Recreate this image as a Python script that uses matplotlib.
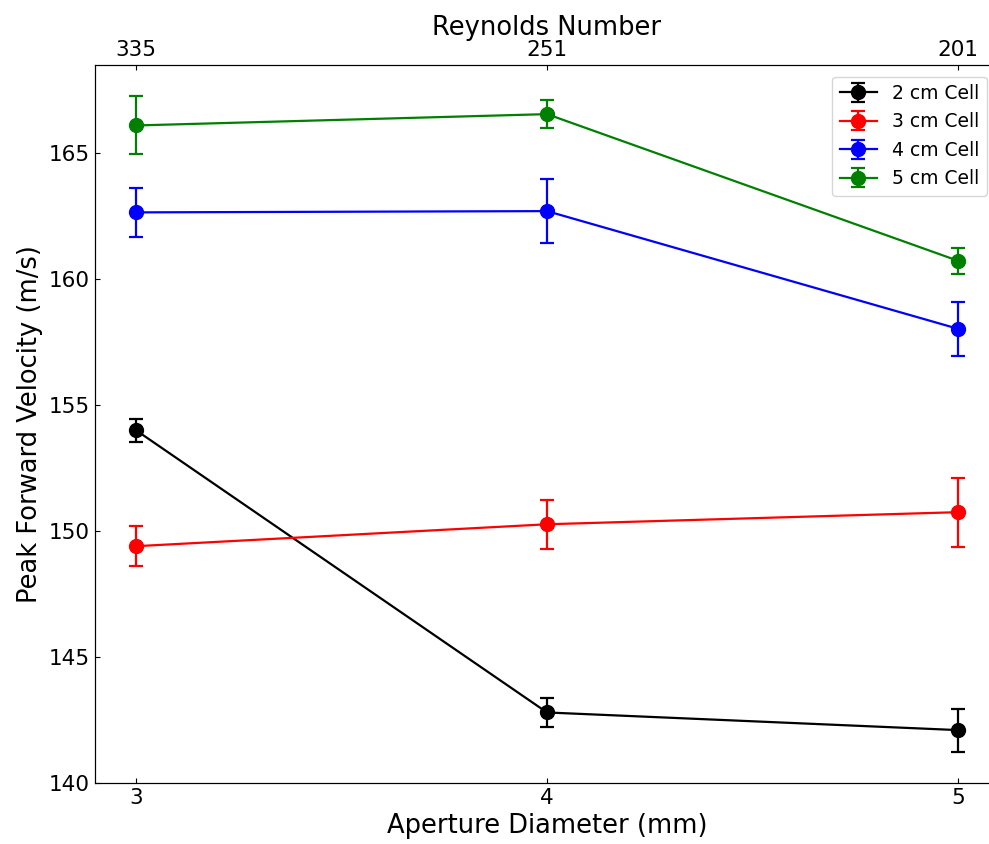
import numpy as np
import matplotlib
matplotlib.use('Agg')
import matplotlib.pyplot as plt

# 구경 (mm) 과 레이놀즈 수
aperture = [3, 4, 5]
reynolds = ['335', '251', '201']

# 셀 크기별 최대 전진 속도 (m/s) 와 오차
v_2cm = [154.0, 142.8, 142.1]
e_2cm = [0.45, 0.57, 0.85]
v_3cm = [149.4, 150.27, 150.75]
e_3cm = [0.8, 0.97, 1.37]
v_4cm = [162.65, 162.7, 158.03]
e_4cm = [0.97, 1.27, 1.07]
v_5cm = [166.1, 166.55, 160.73]
e_5cm = [1.15, 0.57, 0.52]

series = [('2 cm Cell', v_2cm, e_2cm, 'black'),
          ('3 cm Cell', v_3cm, e_3cm, 'red'),
          ('4 cm Cell', v_4cm, e_4cm, 'blue'),
          ('5 cm Cell', v_5cm, e_5cm, 'green')]

fig = plt.figure(figsize=(9.89, 8.44), dpi=100)
ax = fig.add_axes([95/989, 61/844, 904/989, 718/844])

for name, v, e, c in series:
    ax.errorbar(aperture, v, yerr=e, color=c, marker='o', markersize=10,
                linewidth=1.6, elinewidth=1.6, capsize=5, capthick=1.6, label=name)

ax.set_xlim(2.9, 5.1)
ax.set_ylim(140, 168.5)
ax.set_xticks(aperture)
ax.set_yticks([140, 145, 150, 155, 160, 165])
ax.tick_params(direction='in', labelsize=15.5)
ax.set_xlabel('Aperture Diameter (mm)', fontsize=18.5)
ax.set_ylabel('Peak Forward Velocity (m/s)', fontsize=18.5)

ax2 = ax.twiny()
ax2.set_xlim(ax.get_xlim())
ax2.set_xticks(aperture)
ax2.set_xticklabels(reynolds)
ax2.tick_params(direction='in', labelsize=15.5)
ax2.set_xlabel('Reynolds Number', fontsize=18.5)

ax.legend(loc='upper right', bbox_to_anchor=(0.997, 0.997), fontsize=13.5)

fig.savefig('out.png', dpi=100)
